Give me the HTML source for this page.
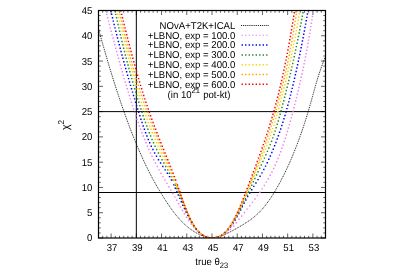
<!DOCTYPE html>
<html><head><meta charset="utf-8"><title>chi2 vs true theta23</title>
<style>
html,body{margin:0;padding:0;background:#fff;}
body{width:400px;height:279px;overflow:hidden;}
svg{display:block;will-change:transform;}
text{font-family:"Liberation Sans",sans-serif;fill:#000;text-rendering:geometricPrecision;}
</style></head><body>
<svg width="400" height="279" viewBox="0 0 400 279">
<rect x="0" y="0" width="400" height="279" fill="#fff"/>
<defs><clipPath id="pc"><rect x="98.5" y="10.5" width="227.0" height="227.5"/></clipPath></defs>
<path d="M98.50 238.0v-2.2M98.50 10.5v2.2M102.70 238.0v-2.2M102.70 10.5v2.2M106.91 238.0v-2.2M106.91 10.5v2.2M111.11 238.0v-4.5M111.11 10.5v4.5M115.31 238.0v-2.2M115.31 10.5v2.2M119.52 238.0v-2.2M119.52 10.5v2.2M123.72 238.0v-2.2M123.72 10.5v2.2M127.93 238.0v-2.2M127.93 10.5v2.2M132.13 238.0v-2.2M132.13 10.5v2.2M136.33 238.0v-4.5M136.33 10.5v4.5M140.54 238.0v-2.2M140.54 10.5v2.2M144.74 238.0v-2.2M144.74 10.5v2.2M148.94 238.0v-2.2M148.94 10.5v2.2M153.15 238.0v-2.2M153.15 10.5v2.2M157.35 238.0v-2.2M157.35 10.5v2.2M161.56 238.0v-4.5M161.56 10.5v4.5M165.76 238.0v-2.2M165.76 10.5v2.2M169.96 238.0v-2.2M169.96 10.5v2.2M174.17 238.0v-2.2M174.17 10.5v2.2M178.37 238.0v-2.2M178.37 10.5v2.2M182.57 238.0v-2.2M182.57 10.5v2.2M186.78 238.0v-4.5M186.78 10.5v4.5M190.98 238.0v-2.2M190.98 10.5v2.2M195.19 238.0v-2.2M195.19 10.5v2.2M199.39 238.0v-2.2M199.39 10.5v2.2M203.59 238.0v-2.2M203.59 10.5v2.2M207.80 238.0v-2.2M207.80 10.5v2.2M212.00 238.0v-4.5M212.00 10.5v4.5M216.20 238.0v-2.2M216.20 10.5v2.2M220.41 238.0v-2.2M220.41 10.5v2.2M224.61 238.0v-2.2M224.61 10.5v2.2M228.81 238.0v-2.2M228.81 10.5v2.2M233.02 238.0v-2.2M233.02 10.5v2.2M237.22 238.0v-4.5M237.22 10.5v4.5M241.43 238.0v-2.2M241.43 10.5v2.2M245.63 238.0v-2.2M245.63 10.5v2.2M249.83 238.0v-2.2M249.83 10.5v2.2M254.04 238.0v-2.2M254.04 10.5v2.2M258.24 238.0v-2.2M258.24 10.5v2.2M262.44 238.0v-4.5M262.44 10.5v4.5M266.65 238.0v-2.2M266.65 10.5v2.2M270.85 238.0v-2.2M270.85 10.5v2.2M275.06 238.0v-2.2M275.06 10.5v2.2M279.26 238.0v-2.2M279.26 10.5v2.2M283.46 238.0v-2.2M283.46 10.5v2.2M287.67 238.0v-4.5M287.67 10.5v4.5M291.87 238.0v-2.2M291.87 10.5v2.2M296.07 238.0v-2.2M296.07 10.5v2.2M300.28 238.0v-2.2M300.28 10.5v2.2M304.48 238.0v-2.2M304.48 10.5v2.2M308.69 238.0v-2.2M308.69 10.5v2.2M312.89 238.0v-4.5M312.89 10.5v4.5M317.09 238.0v-2.2M317.09 10.5v2.2M321.30 238.0v-2.2M321.30 10.5v2.2M325.50 238.0v-2.2M325.50 10.5v2.2M98.5 238.00h4.5M325.5 238.00h-4.5M98.5 232.94h2.2M325.5 232.94h-2.2M98.5 227.89h2.2M325.5 227.89h-2.2M98.5 222.83h2.2M325.5 222.83h-2.2M98.5 217.78h2.2M325.5 217.78h-2.2M98.5 212.72h4.5M325.5 212.72h-4.5M98.5 207.67h2.2M325.5 207.67h-2.2M98.5 202.61h2.2M325.5 202.61h-2.2M98.5 197.56h2.2M325.5 197.56h-2.2M98.5 192.50h2.2M325.5 192.50h-2.2M98.5 187.44h4.5M325.5 187.44h-4.5M98.5 182.39h2.2M325.5 182.39h-2.2M98.5 177.33h2.2M325.5 177.33h-2.2M98.5 172.28h2.2M325.5 172.28h-2.2M98.5 167.22h2.2M325.5 167.22h-2.2M98.5 162.17h4.5M325.5 162.17h-4.5M98.5 157.11h2.2M325.5 157.11h-2.2M98.5 152.06h2.2M325.5 152.06h-2.2M98.5 147.00h2.2M325.5 147.00h-2.2M98.5 141.94h2.2M325.5 141.94h-2.2M98.5 136.89h4.5M325.5 136.89h-4.5M98.5 131.83h2.2M325.5 131.83h-2.2M98.5 126.78h2.2M325.5 126.78h-2.2M98.5 121.72h2.2M325.5 121.72h-2.2M98.5 116.67h2.2M325.5 116.67h-2.2M98.5 111.61h4.5M325.5 111.61h-4.5M98.5 106.56h2.2M325.5 106.56h-2.2M98.5 101.50h2.2M325.5 101.50h-2.2M98.5 96.44h2.2M325.5 96.44h-2.2M98.5 91.39h2.2M325.5 91.39h-2.2M98.5 86.33h4.5M325.5 86.33h-4.5M98.5 81.28h2.2M325.5 81.28h-2.2M98.5 76.22h2.2M325.5 76.22h-2.2M98.5 71.17h2.2M325.5 71.17h-2.2M98.5 66.11h2.2M325.5 66.11h-2.2M98.5 61.06h4.5M325.5 61.06h-4.5M98.5 56.00h2.2M325.5 56.00h-2.2M98.5 50.94h2.2M325.5 50.94h-2.2M98.5 45.89h2.2M325.5 45.89h-2.2M98.5 40.83h2.2M325.5 40.83h-2.2M98.5 35.78h4.5M325.5 35.78h-4.5M98.5 30.72h2.2M325.5 30.72h-2.2M98.5 25.67h2.2M325.5 25.67h-2.2M98.5 20.61h2.2M325.5 20.61h-2.2M98.5 15.56h2.2M325.5 15.56h-2.2M98.5 10.50h4.5M325.5 10.50h-4.5" stroke="#000" stroke-width="1" fill="none" opacity="0.62"/>
<path d="M136.33 10.5V238.0M98.5 111.61H325.5M98.5 192.50H325.5" stroke="#000" stroke-width="1" fill="none"/>
<g clip-path="url(#pc)" fill="none">
<path d="M93.55 10.5 L94.15 12.78 L94.75 15.05 L95.36 17.31 L95.96 19.55 L96.56 21.79 L97.17 24.01 L97.77 26.22 L98.37 28.42 L98.97 30.61 L99.57 32.79 L100.17 34.96 L100.77 37.11 L101.37 39.25 L101.98 41.38 L102.58 43.5 L103.18 45.61 L103.78 47.71 L104.38 49.79 L104.98 51.87 L105.57 53.93 L106.17 55.98 L106.77 58.02 L107.37 60.05 L107.97 62.07 L108.57 64.07 L109.17 66.06 L109.77 68.05 L110.37 70.02 L110.97 71.98 L111.57 73.92 L112.17 75.86 L112.77 77.78 L113.37 79.7 L113.96 81.6 L114.56 83.49 L115.16 85.37 L115.76 87.23 L116.36 89.09 L116.96 90.93 L117.56 92.77 L118.16 94.59 L118.76 96.4 L119.36 98.19 L119.97 99.98 L120.57 101.76 L121.17 103.52 L121.77 105.27 L122.37 107.01 L122.97 108.74 L123.58 110.46 L124.18 112.17 L124.78 113.86 L125.38 115.54 L125.99 117.22 L126.59 118.88 L127.2 120.52 L127.8 122.16 L128.4 123.79 L129.01 125.4 L129.62 127.0 L130.22 128.6 L130.83 130.18 L131.44 131.74 L132.04 133.3 L132.65 134.85 L133.26 136.38 L133.87 137.9 L134.48 139.41 L135.09 140.91 L135.7 142.4 L136.31 143.88 L136.92 145.34 L137.53 146.8 L138.15 148.24 L138.76 149.67 L139.37 151.09 L139.99 152.49 L140.6 153.89 L141.22 155.27 L141.84 156.65 L142.45 158.01 L143.07 159.36 L143.69 160.7 L144.31 162.02 L144.93 163.34 L145.55 164.64 L146.17 165.94 L146.79 167.22 L147.42 168.49 L148.04 169.75 L148.67 170.99 L149.29 172.23 L149.92 173.45 L150.55 174.66 L151.17 175.86 L151.8 177.05 L152.43 178.23 L153.06 179.4 L153.69 180.55 L154.32 181.7 L154.95 182.83 L155.58 183.95 L156.21 185.06 L156.84 186.15 L157.47 187.24 L158.1 188.31 L158.73 189.38 L159.35 190.43 L159.98 191.47 L160.6 192.5 L161.22 193.51 L161.84 194.52 L162.45 195.51 L163.07 196.49 L163.68 197.46 L164.29 198.42 L164.9 199.37 L165.51 200.31 L166.11 201.23 L166.71 202.15 L167.31 203.05 L167.91 203.94 L168.5 204.82 L169.1 205.69 L169.69 206.54 L170.27 207.39 L170.86 208.22 L171.44 209.04 L172.02 209.85 L172.61 210.65 L173.19 211.44 L173.77 212.21 L174.35 212.98 L174.93 213.73 L175.52 214.47 L176.1 215.2 L176.69 215.92 L177.27 216.62 L177.87 217.32 L178.46 218.0 L179.05 218.67 L179.65 219.34 L180.25 219.98 L180.86 220.62 L181.46 221.25 L182.07 221.86 L182.68 222.47 L183.29 223.06 L183.9 223.64 L184.51 224.21 L185.13 224.76 L185.74 225.31 L186.35 225.84 L186.97 226.37 L187.58 226.88 L188.2 227.38 L188.81 227.87 L189.43 228.34 L190.04 228.81 L190.65 229.26 L191.27 229.7 L191.88 230.14 L192.49 230.55 L193.09 230.96 L193.7 231.36 L194.3 231.74 L194.91 232.12 L195.51 232.48 L196.11 232.83 L196.7 233.17 L197.29 233.5 L197.88 233.81 L198.47 234.12 L199.05 234.41 L199.63 234.69 L200.21 234.96 L200.78 235.22 L201.35 235.47 L201.91 235.7 L202.47 235.93 L203.02 236.14 L203.57 236.34 L204.12 236.53 L204.66 236.71 L205.19 236.87 L205.72 237.03 L206.24 237.17 L206.76 237.3 L207.27 237.43 L207.77 237.53 L208.27 237.63 L208.76 237.72 L209.25 237.79 L209.73 237.86 L210.2 237.91 L210.66 237.95 L211.11 237.98 L211.56 237.99 L212.0 238.0 L212.43 237.99 L212.87 237.98 L213.32 237.95 L213.76 237.91 L214.22 237.86 L214.68 237.79 L215.15 237.72 L215.62 237.63 L216.1 237.53 L216.59 237.43 L217.08 237.3 L217.59 237.17 L218.1 237.03 L218.62 236.87 L219.15 236.71 L219.69 236.53 L220.23 236.34 L220.79 236.14 L221.36 235.93 L221.94 235.7 L222.53 235.47 L223.13 235.22 L223.74 234.96 L224.36 234.69 L224.99 234.41 L225.64 234.12 L226.3 233.81 L226.97 233.5 L227.65 233.17 L228.34 232.83 L229.05 232.48 L229.77 232.12 L230.5 231.74 L231.24 231.36 L231.99 230.96 L232.75 230.55 L233.53 230.14 L234.31 229.7 L235.11 229.26 L235.92 228.81 L236.75 228.34 L237.58 227.87 L238.43 227.38 L239.28 226.88 L240.15 226.37 L241.03 225.84 L241.92 225.31 L242.82 224.76 L243.73 224.21 L244.64 223.64 L245.56 223.06 L246.47 222.47 L247.39 221.86 L248.31 221.25 L249.22 220.62 L250.12 219.98 L251.02 219.34 L251.91 218.67 L252.79 218.0 L253.66 217.32 L254.52 216.62 L255.35 215.92 L256.18 215.2 L256.99 214.47 L257.79 213.73 L258.57 212.98 L259.34 212.21 L260.1 211.44 L260.85 210.65 L261.59 209.85 L262.32 209.04 L263.03 208.22 L263.74 207.39 L264.44 206.54 L265.13 205.69 L265.81 204.82 L266.48 203.94 L267.15 203.05 L267.81 202.15 L268.47 201.23 L269.12 200.31 L269.76 199.37 L270.4 198.42 L271.03 197.46 L271.67 196.49 L272.29 195.51 L272.92 194.52 L273.54 193.51 L274.17 192.5 L274.79 191.47 L275.41 190.43 L276.02 189.38 L276.64 188.31 L277.26 187.24 L277.87 186.15 L278.49 185.06 L279.1 183.95 L279.71 182.83 L280.32 181.7 L280.93 180.55 L281.53 179.4 L282.14 178.23 L282.74 177.05 L283.35 175.86 L283.95 174.66 L284.55 173.45 L285.15 172.23 L285.74 170.99 L286.34 169.75 L286.93 168.49 L287.52 167.22 L288.11 165.94 L288.7 164.64 L289.29 163.34 L289.87 162.02 L290.46 160.7 L291.04 159.36 L291.62 158.01 L292.19 156.65 L292.77 155.27 L293.34 153.89 L293.92 152.49 L294.49 151.09 L295.05 149.67 L295.62 148.24 L296.18 146.8 L296.74 145.34 L297.3 143.88 L297.86 142.4 L298.42 140.91 L298.97 139.41 L299.52 137.9 L300.07 136.38 L300.62 134.85 L301.16 133.3 L301.7 131.74 L302.24 130.18 L302.78 128.6 L303.31 127.0 L303.84 125.4 L304.37 123.79 L304.9 122.16 L305.43 120.52 L305.95 118.88 L306.47 117.22 L306.98 115.54 L307.5 113.86 L308.01 112.17 L308.52 110.46 L309.02 108.74 L309.53 107.01 L310.03 105.27 L310.53 103.52 L311.02 101.76 L311.52 99.98 L312.01 98.19 L312.51 96.4 L313.0 94.59 L313.51 92.77 L314.02 90.93 L314.53 89.09 L315.06 87.23 L315.59 85.37 L316.14 83.49 L316.69 81.6 L317.27 79.7 L317.85 77.78 L318.46 75.86 L319.08 73.92 L319.72 71.98 L320.39 70.02 L321.07 68.05 L321.78 66.06 L322.52 64.07 L323.28 62.07 L324.07 60.05 L324.89 58.02 L325.74 55.98 L326.62 53.93 L327.54 51.87 L328.49 49.79 L329.48 47.71 L330.5 45.61 L331.57 43.5 L332.67 41.38 L333.82 39.25 L335.01 37.11 L336.24 34.96 L337.52 32.79 L338.85 30.61 L340.23 28.42 L341.66 26.22 L343.14 24.01 L344.67 21.79 L346.25 19.55 L347.9 17.31 L349.6 15.05 L351.36 12.78 L353.18 10.5" stroke="#000" stroke-width="0.9" stroke-dasharray="1 0.9"/>
<path d="M105.19 10.28h1.45v1.45h-1.45zM106.06 13.65h1.45v1.45h-1.45zM106.93 17.03h1.45v1.45h-1.45zM107.81 20.41h1.45v1.45h-1.45zM108.69 23.79h1.45v1.45h-1.45zM109.57 27.17h1.45v1.45h-1.45zM110.46 30.55h1.45v1.45h-1.45zM111.35 33.93h1.45v1.45h-1.45zM112.25 37.31h1.45v1.45h-1.45zM113.16 40.69h1.45v1.45h-1.45zM114.07 44.07h1.45v1.45h-1.45zM114.98 47.45h1.45v1.45h-1.45zM115.91 50.84h1.45v1.45h-1.45zM116.84 54.22h1.45v1.45h-1.45zM117.78 57.60h1.45v1.45h-1.45zM118.72 60.98h1.45v1.45h-1.45zM119.67 64.36h1.45v1.45h-1.45zM120.63 67.74h1.45v1.45h-1.45zM121.60 71.12h1.45v1.45h-1.45zM122.57 74.50h1.45v1.45h-1.45zM123.55 77.88h1.45v1.45h-1.45zM124.54 81.26h1.45v1.45h-1.45zM125.53 84.64h1.45v1.45h-1.45zM126.54 88.02h1.45v1.45h-1.45zM127.57 91.39h1.45v1.45h-1.45zM128.60 94.77h1.45v1.45h-1.45zM129.65 98.15h1.45v1.45h-1.45zM130.71 101.53h1.45v1.45h-1.45zM131.79 104.91h1.45v1.45h-1.45zM132.89 108.29h1.45v1.45h-1.45zM134.00 111.67h1.45v1.45h-1.45zM135.15 115.05h1.45v1.45h-1.45zM136.30 118.43h1.45v1.45h-1.45zM137.49 121.81h1.45v1.45h-1.45zM138.71 125.19h1.45v1.45h-1.45zM139.95 128.57h1.45v1.45h-1.45zM141.23 131.95h1.45v1.45h-1.45zM142.54 135.33h1.45v1.45h-1.45zM143.89 138.71h1.45v1.45h-1.45zM145.27 142.09h1.45v1.45h-1.45zM146.71 145.47h1.45v1.45h-1.45zM148.19 148.85h1.45v1.45h-1.45zM149.72 152.23h1.45v1.45h-1.45zM151.32 155.61h1.45v1.45h-1.45zM152.97 158.99h1.45v1.45h-1.45zM154.70 162.37h1.45v1.45h-1.45zM156.49 165.75h1.45v1.45h-1.45zM158.35 169.13h1.45v1.45h-1.45zM160.26 172.51h1.45v1.45h-1.45zM162.22 175.89h1.45v1.45h-1.45zM164.20 179.27h1.45v1.45h-1.45zM166.20 182.65h1.45v1.45h-1.45zM168.20 186.03h1.45v1.45h-1.45zM170.19 189.41h1.45v1.45h-1.45zM172.15 192.79h1.45v1.45h-1.45zM174.07 196.17h1.45v1.45h-1.45zM175.97 199.55h1.45v1.45h-1.45zM177.86 202.93h1.45v1.45h-1.45zM179.77 206.31h1.45v1.45h-1.45zM181.73 209.69h1.45v1.45h-1.45zM183.77 213.07h1.45v1.45h-1.45zM185.90 216.45h1.45v1.45h-1.45zM188.17 219.83h1.45v1.45h-1.45zM190.62 223.21h1.45v1.45h-1.45zM193.33 226.59h1.45v1.45h-1.45zM196.46 229.97h1.45v1.45h-1.45zM199.84 232.93h1.45v1.45h-1.45zM203.22 235.14h1.45v1.45h-1.45zM206.60 236.56h1.45v1.45h-1.45zM209.98 237.22h1.45v1.45h-1.45zM216.23 236.63h1.45v1.45h-1.45zM219.61 235.52h1.45v1.45h-1.45zM222.99 233.87h1.45v1.45h-1.45zM226.37 231.64h1.45v1.45h-1.45zM229.75 228.70h1.45v1.45h-1.45zM232.85 225.32h1.45v1.45h-1.45zM235.59 221.94h1.45v1.45h-1.45zM238.23 218.56h1.45v1.45h-1.45zM240.91 215.18h1.45v1.45h-1.45zM243.64 211.80h1.45v1.45h-1.45zM246.35 208.42h1.45v1.45h-1.45zM249.06 205.04h1.45v1.45h-1.45zM251.70 201.66h1.45v1.45h-1.45zM254.25 198.28h1.45v1.45h-1.45zM256.74 194.90h1.45v1.45h-1.45zM259.13 191.52h1.45v1.45h-1.45zM261.42 188.14h1.45v1.45h-1.45zM263.61 184.76h1.45v1.45h-1.45zM265.68 181.38h1.45v1.45h-1.45zM267.65 178.00h1.45v1.45h-1.45zM269.50 174.62h1.45v1.45h-1.45zM271.25 171.24h1.45v1.45h-1.45zM272.90 167.86h1.45v1.45h-1.45zM274.46 164.48h1.45v1.45h-1.45zM275.93 161.10h1.45v1.45h-1.45zM277.33 157.72h1.45v1.45h-1.45zM278.68 154.34h1.45v1.45h-1.45zM279.96 150.96h1.45v1.45h-1.45zM281.18 147.58h1.45v1.45h-1.45zM282.36 144.20h1.45v1.45h-1.45zM283.50 140.82h1.45v1.45h-1.45zM284.59 137.44h1.45v1.45h-1.45zM285.66 134.06h1.45v1.45h-1.45zM286.69 130.68h1.45v1.45h-1.45zM287.68 127.30h1.45v1.45h-1.45zM288.66 123.92h1.45v1.45h-1.45zM289.60 120.54h1.45v1.45h-1.45zM290.54 117.16h1.45v1.45h-1.45zM291.44 113.78h1.45v1.45h-1.45zM292.33 110.40h1.45v1.45h-1.45zM293.21 107.02h1.45v1.45h-1.45zM294.07 103.64h1.45v1.45h-1.45zM294.92 100.26h1.45v1.45h-1.45zM295.75 96.88h1.45v1.45h-1.45zM296.58 93.50h1.45v1.45h-1.45zM297.40 90.12h1.45v1.45h-1.45zM298.19 86.74h1.45v1.45h-1.45zM298.98 83.36h1.45v1.45h-1.45zM299.75 79.98h1.45v1.45h-1.45zM300.51 76.60h1.45v1.45h-1.45zM301.26 73.22h1.45v1.45h-1.45zM301.99 69.84h1.45v1.45h-1.45zM302.71 66.46h1.45v1.45h-1.45zM303.41 63.08h1.45v1.45h-1.45zM304.10 59.70h1.45v1.45h-1.45zM304.77 56.32h1.45v1.45h-1.45zM305.44 52.94h1.45v1.45h-1.45zM306.07 49.56h1.45v1.45h-1.45zM306.71 46.18h1.45v1.45h-1.45zM307.32 42.80h1.45v1.45h-1.45zM307.92 39.42h1.45v1.45h-1.45zM308.51 36.04h1.45v1.45h-1.45zM309.08 32.66h1.45v1.45h-1.45zM309.63 29.28h1.45v1.45h-1.45zM310.17 25.90h1.45v1.45h-1.45zM310.69 22.52h1.45v1.45h-1.45zM311.20 19.14h1.45v1.45h-1.45zM311.69 15.76h1.45v1.45h-1.45zM312.17 12.38h1.45v1.45h-1.45z" fill="#ee82ee" stroke="none"/>
<path d="M110.20 10.28h1.45v1.45h-1.45zM110.99 13.65h1.45v1.45h-1.45zM111.79 17.03h1.45v1.45h-1.45zM112.61 20.41h1.45v1.45h-1.45zM113.43 23.79h1.45v1.45h-1.45zM114.26 27.17h1.45v1.45h-1.45zM115.09 30.55h1.45v1.45h-1.45zM115.94 33.93h1.45v1.45h-1.45zM116.80 37.31h1.45v1.45h-1.45zM117.68 40.69h1.45v1.45h-1.45zM118.55 44.07h1.45v1.45h-1.45zM119.44 47.45h1.45v1.45h-1.45zM120.33 50.84h1.45v1.45h-1.45zM121.24 54.22h1.45v1.45h-1.45zM122.16 57.60h1.45v1.45h-1.45zM123.07 60.98h1.45v1.45h-1.45zM124.01 64.36h1.45v1.45h-1.45zM124.95 67.74h1.45v1.45h-1.45zM125.91 71.12h1.45v1.45h-1.45zM126.86 74.50h1.45v1.45h-1.45zM127.84 77.88h1.45v1.45h-1.45zM128.82 81.26h1.45v1.45h-1.45zM129.80 84.64h1.45v1.45h-1.45zM130.80 88.02h1.45v1.45h-1.45zM131.81 91.39h1.45v1.45h-1.45zM132.82 94.77h1.45v1.45h-1.45zM133.85 98.15h1.45v1.45h-1.45zM134.88 101.53h1.45v1.45h-1.45zM135.92 104.91h1.45v1.45h-1.45zM136.97 108.29h1.45v1.45h-1.45zM138.03 111.67h1.45v1.45h-1.45zM139.10 115.05h1.45v1.45h-1.45zM140.19 118.43h1.45v1.45h-1.45zM141.31 121.81h1.45v1.45h-1.45zM142.47 125.19h1.45v1.45h-1.45zM143.66 128.57h1.45v1.45h-1.45zM144.90 131.95h1.45v1.45h-1.45zM146.20 135.33h1.45v1.45h-1.45zM147.57 138.71h1.45v1.45h-1.45zM149.00 142.09h1.45v1.45h-1.45zM150.54 145.47h1.45v1.45h-1.45zM152.16 148.85h1.45v1.45h-1.45zM153.90 152.23h1.45v1.45h-1.45zM155.76 155.61h1.45v1.45h-1.45zM157.75 158.99h1.45v1.45h-1.45zM159.88 162.37h1.45v1.45h-1.45zM162.14 165.75h1.45v1.45h-1.45zM164.44 169.13h1.45v1.45h-1.45zM166.70 172.51h1.45v1.45h-1.45zM168.79 175.89h1.45v1.45h-1.45zM170.68 179.27h1.45v1.45h-1.45zM173.12 184.15h1.45v1.45h-1.45zM174.66 187.53h1.45v1.45h-1.45zM176.14 190.91h1.45v1.45h-1.45zM177.62 194.29h1.45v1.45h-1.45zM179.11 197.67h1.45v1.45h-1.45zM180.60 201.05h1.45v1.45h-1.45zM182.13 204.43h1.45v1.45h-1.45zM183.71 207.81h1.45v1.45h-1.45zM185.32 211.19h1.45v1.45h-1.45zM187.02 214.57h1.45v1.45h-1.45zM188.80 217.95h1.45v1.45h-1.45zM190.72 221.33h1.45v1.45h-1.45zM192.84 224.71h1.45v1.45h-1.45zM195.27 228.09h1.45v1.45h-1.45zM198.25 231.47h1.45v1.45h-1.45zM201.63 234.28h1.45v1.45h-1.45zM205.01 236.09h1.45v1.45h-1.45zM208.39 237.04h1.45v1.45h-1.45zM211.77 237.26h1.45v1.45h-1.45zM216.82 236.45h1.45v1.45h-1.45zM220.20 235.01h1.45v1.45h-1.45zM223.58 232.75h1.45v1.45h-1.45zM226.92 229.60h1.45v1.45h-1.45zM229.75 226.22h1.45v1.45h-1.45zM232.14 222.84h1.45v1.45h-1.45zM234.27 219.46h1.45v1.45h-1.45zM236.22 216.08h1.45v1.45h-1.45zM238.07 212.70h1.45v1.45h-1.45zM239.85 209.32h1.45v1.45h-1.45zM241.59 205.94h1.45v1.45h-1.45zM243.34 202.56h1.45v1.45h-1.45zM245.12 199.18h1.45v1.45h-1.45zM246.97 195.80h1.45v1.45h-1.45zM248.92 192.42h1.45v1.45h-1.45zM250.97 189.04h1.45v1.45h-1.45zM253.08 185.66h1.45v1.45h-1.45zM255.21 182.28h1.45v1.45h-1.45zM257.30 178.90h1.45v1.45h-1.45zM259.32 175.52h1.45v1.45h-1.45zM261.25 172.14h1.45v1.45h-1.45zM263.09 168.76h1.45v1.45h-1.45zM264.83 165.38h1.45v1.45h-1.45zM266.51 162.00h1.45v1.45h-1.45zM268.10 158.62h1.45v1.45h-1.45zM269.63 155.24h1.45v1.45h-1.45zM271.11 151.86h1.45v1.45h-1.45zM272.52 148.48h1.45v1.45h-1.45zM273.87 145.10h1.45v1.45h-1.45zM275.18 141.72h1.45v1.45h-1.45zM276.44 138.34h1.45v1.45h-1.45zM277.67 134.96h1.45v1.45h-1.45zM278.85 131.58h1.45v1.45h-1.45zM280.00 128.20h1.45v1.45h-1.45zM281.10 124.82h1.45v1.45h-1.45zM282.17 121.44h1.45v1.45h-1.45zM283.23 118.06h1.45v1.45h-1.45zM284.24 114.68h1.45v1.45h-1.45zM285.23 111.30h1.45v1.45h-1.45zM286.18 107.92h1.45v1.45h-1.45zM287.12 104.54h1.45v1.45h-1.45zM288.03 101.16h1.45v1.45h-1.45zM288.92 97.78h1.45v1.45h-1.45zM289.80 94.40h1.45v1.45h-1.45zM290.65 91.02h1.45v1.45h-1.45zM291.48 87.64h1.45v1.45h-1.45zM292.30 84.26h1.45v1.45h-1.45zM293.10 80.88h1.45v1.45h-1.45zM293.88 77.50h1.45v1.45h-1.45zM294.66 74.12h1.45v1.45h-1.45zM295.41 70.74h1.45v1.45h-1.45zM296.16 67.36h1.45v1.45h-1.45zM296.89 63.98h1.45v1.45h-1.45zM297.60 60.60h1.45v1.45h-1.45zM298.31 57.22h1.45v1.45h-1.45zM299.02 53.84h1.45v1.45h-1.45zM299.70 50.46h1.45v1.45h-1.45zM300.38 47.08h1.45v1.45h-1.45zM301.05 43.70h1.45v1.45h-1.45zM301.71 40.32h1.45v1.45h-1.45zM302.36 36.94h1.45v1.45h-1.45zM303.00 33.56h1.45v1.45h-1.45zM303.64 30.18h1.45v1.45h-1.45zM304.27 26.80h1.45v1.45h-1.45zM304.90 23.42h1.45v1.45h-1.45zM305.52 20.04h1.45v1.45h-1.45zM306.13 16.66h1.45v1.45h-1.45zM306.74 13.28h1.45v1.45h-1.45zM307.35 9.90h1.45v1.45h-1.45z" fill="#0000ff" stroke="none"/>
<path d="M114.33 10.28h1.45v1.45h-1.45zM115.06 13.65h1.45v1.45h-1.45zM115.81 17.03h1.45v1.45h-1.45zM116.55 20.41h1.45v1.45h-1.45zM117.31 23.79h1.45v1.45h-1.45zM118.09 27.17h1.45v1.45h-1.45zM118.86 30.55h1.45v1.45h-1.45zM119.65 33.93h1.45v1.45h-1.45zM120.46 37.31h1.45v1.45h-1.45zM121.27 40.69h1.45v1.45h-1.45zM122.10 44.07h1.45v1.45h-1.45zM122.93 47.45h1.45v1.45h-1.45zM123.78 50.84h1.45v1.45h-1.45zM124.64 54.22h1.45v1.45h-1.45zM125.50 57.60h1.45v1.45h-1.45zM126.39 60.98h1.45v1.45h-1.45zM127.28 64.36h1.45v1.45h-1.45zM128.19 67.74h1.45v1.45h-1.45zM129.11 71.12h1.45v1.45h-1.45zM130.05 74.50h1.45v1.45h-1.45zM131.00 77.88h1.45v1.45h-1.45zM131.95 81.26h1.45v1.45h-1.45zM132.92 84.64h1.45v1.45h-1.45zM133.92 88.02h1.45v1.45h-1.45zM134.92 91.39h1.45v1.45h-1.45zM135.94 94.77h1.45v1.45h-1.45zM136.98 98.15h1.45v1.45h-1.45zM138.03 101.53h1.45v1.45h-1.45zM139.10 104.91h1.45v1.45h-1.45zM140.19 108.29h1.45v1.45h-1.45zM141.29 111.67h1.45v1.45h-1.45zM142.41 115.05h1.45v1.45h-1.45zM143.56 118.43h1.45v1.45h-1.45zM144.75 121.81h1.45v1.45h-1.45zM145.97 125.19h1.45v1.45h-1.45zM147.22 128.57h1.45v1.45h-1.45zM148.53 131.95h1.45v1.45h-1.45zM149.89 135.33h1.45v1.45h-1.45zM151.31 138.71h1.45v1.45h-1.45zM152.79 142.09h1.45v1.45h-1.45zM154.34 145.47h1.45v1.45h-1.45zM155.98 148.85h1.45v1.45h-1.45zM157.70 152.23h1.45v1.45h-1.45zM159.48 155.61h1.45v1.45h-1.45zM161.31 158.99h1.45v1.45h-1.45zM163.18 162.37h1.45v1.45h-1.45zM165.06 165.75h1.45v1.45h-1.45zM166.93 169.13h1.45v1.45h-1.45zM168.76 172.51h1.45v1.45h-1.45zM170.54 175.89h1.45v1.45h-1.45zM172.24 179.27h1.45v1.45h-1.45zM174.76 184.55h1.45v1.45h-1.45zM176.29 187.93h1.45v1.45h-1.45zM177.77 191.31h1.45v1.45h-1.45zM179.21 194.69h1.45v1.45h-1.45zM180.62 198.07h1.45v1.45h-1.45zM182.00 201.45h1.45v1.45h-1.45zM183.36 204.83h1.45v1.45h-1.45zM184.73 208.21h1.45v1.45h-1.45zM186.14 211.59h1.45v1.45h-1.45zM187.60 214.97h1.45v1.45h-1.45zM189.17 218.35h1.45v1.45h-1.45zM190.93 221.73h1.45v1.45h-1.45zM192.99 225.11h1.45v1.45h-1.45zM195.52 228.49h1.45v1.45h-1.45zM198.70 231.82h1.45v1.45h-1.45zM202.08 234.40h1.45v1.45h-1.45zM205.46 236.13h1.45v1.45h-1.45zM208.84 237.07h1.45v1.45h-1.45zM212.22 237.25h1.45v1.45h-1.45zM217.59 236.13h1.45v1.45h-1.45zM220.97 234.40h1.45v1.45h-1.45zM224.35 231.76h1.45v1.45h-1.45zM227.49 228.40h1.45v1.45h-1.45zM230.06 225.02h1.45v1.45h-1.45zM232.30 221.64h1.45v1.45h-1.45zM234.33 218.26h1.45v1.45h-1.45zM236.23 214.88h1.45v1.45h-1.45zM238.03 211.50h1.45v1.45h-1.45zM239.75 208.12h1.45v1.45h-1.45zM241.44 204.74h1.45v1.45h-1.45zM243.08 201.36h1.45v1.45h-1.45zM244.69 197.98h1.45v1.45h-1.45zM246.30 194.60h1.45v1.45h-1.45zM247.89 191.22h1.45v1.45h-1.45zM249.46 187.84h1.45v1.45h-1.45zM251.05 184.46h1.45v1.45h-1.45zM252.63 181.08h1.45v1.45h-1.45zM254.22 177.70h1.45v1.45h-1.45zM255.80 174.32h1.45v1.45h-1.45zM257.41 170.94h1.45v1.45h-1.45zM259.01 167.56h1.45v1.45h-1.45zM260.60 164.18h1.45v1.45h-1.45zM262.18 160.80h1.45v1.45h-1.45zM263.73 157.42h1.45v1.45h-1.45zM265.23 154.04h1.45v1.45h-1.45zM266.70 150.66h1.45v1.45h-1.45zM268.12 147.28h1.45v1.45h-1.45zM269.50 143.90h1.45v1.45h-1.45zM270.81 140.52h1.45v1.45h-1.45zM272.06 137.14h1.45v1.45h-1.45zM273.25 133.76h1.45v1.45h-1.45zM274.38 130.38h1.45v1.45h-1.45zM275.47 127.00h1.45v1.45h-1.45zM276.51 123.62h1.45v1.45h-1.45zM277.52 120.24h1.45v1.45h-1.45zM278.49 116.86h1.45v1.45h-1.45zM279.43 113.48h1.45v1.45h-1.45zM280.36 110.10h1.45v1.45h-1.45zM281.26 106.72h1.45v1.45h-1.45zM282.15 103.34h1.45v1.45h-1.45zM283.03 99.96h1.45v1.45h-1.45zM283.89 96.58h1.45v1.45h-1.45zM284.75 93.20h1.45v1.45h-1.45zM285.60 89.82h1.45v1.45h-1.45zM286.43 86.44h1.45v1.45h-1.45zM287.26 83.06h1.45v1.45h-1.45zM288.08 79.68h1.45v1.45h-1.45zM288.88 76.30h1.45v1.45h-1.45zM289.67 72.92h1.45v1.45h-1.45zM290.46 69.54h1.45v1.45h-1.45zM291.23 66.16h1.45v1.45h-1.45zM291.99 62.78h1.45v1.45h-1.45zM292.74 59.40h1.45v1.45h-1.45zM293.49 56.02h1.45v1.45h-1.45zM294.22 52.64h1.45v1.45h-1.45zM294.93 49.26h1.45v1.45h-1.45zM295.65 45.88h1.45v1.45h-1.45zM296.35 42.50h1.45v1.45h-1.45zM297.04 39.12h1.45v1.45h-1.45zM297.72 35.74h1.45v1.45h-1.45zM298.40 32.36h1.45v1.45h-1.45zM299.06 28.98h1.45v1.45h-1.45zM299.71 25.60h1.45v1.45h-1.45zM300.35 22.22h1.45v1.45h-1.45zM300.98 18.84h1.45v1.45h-1.45zM301.61 15.46h1.45v1.45h-1.45zM302.22 12.08h1.45v1.45h-1.45z" fill="#228b22" stroke="none"/>
<path d="M116.41 10.28h1.45v1.45h-1.45zM117.23 13.65h1.45v1.45h-1.45zM118.05 17.03h1.45v1.45h-1.45zM118.88 20.41h1.45v1.45h-1.45zM119.70 23.79h1.45v1.45h-1.45zM120.52 27.17h1.45v1.45h-1.45zM121.35 30.55h1.45v1.45h-1.45zM122.17 33.93h1.45v1.45h-1.45zM123.01 37.31h1.45v1.45h-1.45zM123.84 40.69h1.45v1.45h-1.45zM124.68 44.07h1.45v1.45h-1.45zM125.52 47.45h1.45v1.45h-1.45zM126.37 50.84h1.45v1.45h-1.45zM127.23 54.22h1.45v1.45h-1.45zM128.09 57.60h1.45v1.45h-1.45zM128.97 60.98h1.45v1.45h-1.45zM129.85 64.36h1.45v1.45h-1.45zM130.75 67.74h1.45v1.45h-1.45zM131.66 71.12h1.45v1.45h-1.45zM132.58 74.50h1.45v1.45h-1.45zM133.51 77.88h1.45v1.45h-1.45zM134.46 81.26h1.45v1.45h-1.45zM135.43 84.64h1.45v1.45h-1.45zM136.42 88.02h1.45v1.45h-1.45zM137.43 91.39h1.45v1.45h-1.45zM138.46 94.77h1.45v1.45h-1.45zM139.51 98.15h1.45v1.45h-1.45zM140.59 101.53h1.45v1.45h-1.45zM141.70 104.91h1.45v1.45h-1.45zM142.83 108.29h1.45v1.45h-1.45zM144.00 111.67h1.45v1.45h-1.45zM145.19 115.05h1.45v1.45h-1.45zM146.43 118.43h1.45v1.45h-1.45zM147.69 121.81h1.45v1.45h-1.45zM148.99 125.19h1.45v1.45h-1.45zM150.31 128.57h1.45v1.45h-1.45zM151.68 131.95h1.45v1.45h-1.45zM153.08 135.33h1.45v1.45h-1.45zM154.51 138.71h1.45v1.45h-1.45zM155.98 142.09h1.45v1.45h-1.45zM157.47 145.47h1.45v1.45h-1.45zM158.99 148.85h1.45v1.45h-1.45zM160.55 152.23h1.45v1.45h-1.45zM162.12 155.61h1.45v1.45h-1.45zM163.70 158.99h1.45v1.45h-1.45zM165.29 162.37h1.45v1.45h-1.45zM166.88 165.75h1.45v1.45h-1.45zM168.46 169.13h1.45v1.45h-1.45zM170.02 172.51h1.45v1.45h-1.45zM171.55 175.89h1.45v1.45h-1.45zM173.06 179.27h1.45v1.45h-1.45zM174.52 182.65h1.45v1.45h-1.45zM175.95 186.03h1.45v1.45h-1.45zM177.35 189.41h1.45v1.45h-1.45zM178.73 192.79h1.45v1.45h-1.45zM180.09 196.17h1.45v1.45h-1.45zM181.43 199.55h1.45v1.45h-1.45zM182.78 202.93h1.45v1.45h-1.45zM184.14 206.31h1.45v1.45h-1.45zM185.54 209.69h1.45v1.45h-1.45zM186.99 213.07h1.45v1.45h-1.45zM188.54 216.45h1.45v1.45h-1.45zM190.23 219.83h1.45v1.45h-1.45zM192.13 223.21h1.45v1.45h-1.45zM194.33 226.59h1.45v1.45h-1.45zM197.00 229.97h1.45v1.45h-1.45zM200.28 233.17h1.45v1.45h-1.45zM203.66 235.41h1.45v1.45h-1.45zM207.04 236.73h1.45v1.45h-1.45zM210.42 237.26h1.45v1.45h-1.45zM216.65 236.47h1.45v1.45h-1.45zM220.03 234.99h1.45v1.45h-1.45zM223.41 232.58h1.45v1.45h-1.45zM226.64 229.30h1.45v1.45h-1.45zM229.24 225.92h1.45v1.45h-1.45zM231.46 222.54h1.45v1.45h-1.45zM233.44 219.16h1.45v1.45h-1.45zM235.26 215.78h1.45v1.45h-1.45zM236.98 212.40h1.45v1.45h-1.45zM238.60 209.02h1.45v1.45h-1.45zM240.17 205.64h1.45v1.45h-1.45zM241.71 202.26h1.45v1.45h-1.45zM243.19 198.88h1.45v1.45h-1.45zM244.67 195.50h1.45v1.45h-1.45zM246.14 192.12h1.45v1.45h-1.45zM247.59 188.74h1.45v1.45h-1.45zM249.03 185.36h1.45v1.45h-1.45zM250.47 181.98h1.45v1.45h-1.45zM251.92 178.60h1.45v1.45h-1.45zM253.36 175.22h1.45v1.45h-1.45zM254.82 171.84h1.45v1.45h-1.45zM256.28 168.46h1.45v1.45h-1.45zM257.73 165.08h1.45v1.45h-1.45zM259.18 161.70h1.45v1.45h-1.45zM260.60 158.32h1.45v1.45h-1.45zM262.00 154.94h1.45v1.45h-1.45zM263.38 151.56h1.45v1.45h-1.45zM264.73 148.18h1.45v1.45h-1.45zM266.04 144.80h1.45v1.45h-1.45zM267.31 141.42h1.45v1.45h-1.45zM268.54 138.04h1.45v1.45h-1.45zM269.73 134.66h1.45v1.45h-1.45zM270.88 131.28h1.45v1.45h-1.45zM271.99 127.90h1.45v1.45h-1.45zM273.06 124.52h1.45v1.45h-1.45zM274.11 121.14h1.45v1.45h-1.45zM275.13 117.76h1.45v1.45h-1.45zM276.11 114.38h1.45v1.45h-1.45zM277.08 111.00h1.45v1.45h-1.45zM278.03 107.62h1.45v1.45h-1.45zM278.95 104.24h1.45v1.45h-1.45zM279.86 100.86h1.45v1.45h-1.45zM280.75 97.48h1.45v1.45h-1.45zM281.63 94.10h1.45v1.45h-1.45zM282.48 90.72h1.45v1.45h-1.45zM283.32 87.34h1.45v1.45h-1.45zM284.15 83.96h1.45v1.45h-1.45zM284.96 80.58h1.45v1.45h-1.45zM285.76 77.20h1.45v1.45h-1.45zM286.54 73.82h1.45v1.45h-1.45zM287.31 70.44h1.45v1.45h-1.45zM288.06 67.06h1.45v1.45h-1.45zM288.81 63.68h1.45v1.45h-1.45zM289.54 60.30h1.45v1.45h-1.45zM290.27 56.92h1.45v1.45h-1.45zM290.97 53.54h1.45v1.45h-1.45zM291.66 50.16h1.45v1.45h-1.45zM292.35 46.78h1.45v1.45h-1.45zM293.02 43.40h1.45v1.45h-1.45zM293.69 40.02h1.45v1.45h-1.45zM294.34 36.64h1.45v1.45h-1.45zM294.98 33.26h1.45v1.45h-1.45zM295.61 29.88h1.45v1.45h-1.45zM296.23 26.50h1.45v1.45h-1.45zM296.84 23.12h1.45v1.45h-1.45zM297.44 19.74h1.45v1.45h-1.45zM298.03 16.36h1.45v1.45h-1.45zM298.62 12.98h1.45v1.45h-1.45z" fill="#ffd700" stroke="none"/>
<path d="M118.52 10.28h1.45v1.45h-1.45zM119.30 13.65h1.45v1.45h-1.45zM120.08 17.03h1.45v1.45h-1.45zM120.86 20.41h1.45v1.45h-1.45zM121.65 23.79h1.45v1.45h-1.45zM122.43 27.17h1.45v1.45h-1.45zM123.22 30.55h1.45v1.45h-1.45zM124.02 33.93h1.45v1.45h-1.45zM124.83 37.31h1.45v1.45h-1.45zM125.64 40.69h1.45v1.45h-1.45zM126.48 44.07h1.45v1.45h-1.45zM127.30 47.45h1.45v1.45h-1.45zM128.15 50.84h1.45v1.45h-1.45zM129.01 54.22h1.45v1.45h-1.45zM129.88 57.60h1.45v1.45h-1.45zM130.77 60.98h1.45v1.45h-1.45zM131.68 64.36h1.45v1.45h-1.45zM132.60 67.74h1.45v1.45h-1.45zM133.54 71.12h1.45v1.45h-1.45zM134.50 74.50h1.45v1.45h-1.45zM135.49 77.88h1.45v1.45h-1.45zM136.50 81.26h1.45v1.45h-1.45zM137.53 84.64h1.45v1.45h-1.45zM138.59 88.02h1.45v1.45h-1.45zM139.67 91.39h1.45v1.45h-1.45zM140.77 94.77h1.45v1.45h-1.45zM141.90 98.15h1.45v1.45h-1.45zM143.04 101.53h1.45v1.45h-1.45zM144.21 104.91h1.45v1.45h-1.45zM145.40 108.29h1.45v1.45h-1.45zM146.61 111.67h1.45v1.45h-1.45zM147.84 115.05h1.45v1.45h-1.45zM149.09 118.43h1.45v1.45h-1.45zM150.36 121.81h1.45v1.45h-1.45zM151.65 125.19h1.45v1.45h-1.45zM152.96 128.57h1.45v1.45h-1.45zM154.28 131.95h1.45v1.45h-1.45zM155.63 135.33h1.45v1.45h-1.45zM156.99 138.71h1.45v1.45h-1.45zM158.36 142.09h1.45v1.45h-1.45zM159.74 145.47h1.45v1.45h-1.45zM161.14 148.85h1.45v1.45h-1.45zM162.55 152.23h1.45v1.45h-1.45zM163.97 155.61h1.45v1.45h-1.45zM165.40 158.99h1.45v1.45h-1.45zM166.82 162.37h1.45v1.45h-1.45zM168.26 165.75h1.45v1.45h-1.45zM169.69 169.13h1.45v1.45h-1.45zM171.12 172.51h1.45v1.45h-1.45zM172.52 175.89h1.45v1.45h-1.45zM173.90 179.27h1.45v1.45h-1.45zM175.38 182.95h1.45v1.45h-1.45zM176.72 186.33h1.45v1.45h-1.45zM178.03 189.71h1.45v1.45h-1.45zM179.33 193.09h1.45v1.45h-1.45zM180.64 196.47h1.45v1.45h-1.45zM181.93 199.85h1.45v1.45h-1.45zM183.23 203.23h1.45v1.45h-1.45zM184.56 206.61h1.45v1.45h-1.45zM185.93 209.99h1.45v1.45h-1.45zM187.37 213.37h1.45v1.45h-1.45zM188.91 216.75h1.45v1.45h-1.45zM190.60 220.13h1.45v1.45h-1.45zM192.48 223.51h1.45v1.45h-1.45zM194.67 226.89h1.45v1.45h-1.45zM197.33 230.27h1.45v1.45h-1.45zM200.63 233.43h1.45v1.45h-1.45zM204.01 235.59h1.45v1.45h-1.45zM207.39 236.82h1.45v1.45h-1.45zM210.77 237.26h1.45v1.45h-1.45zM215.80 236.76h1.45v1.45h-1.45zM219.18 235.55h1.45v1.45h-1.45zM222.56 233.39h1.45v1.45h-1.45zM225.83 230.19h1.45v1.45h-1.45zM228.43 226.81h1.45v1.45h-1.45zM230.61 223.43h1.45v1.45h-1.45zM232.55 220.05h1.45v1.45h-1.45zM234.36 216.67h1.45v1.45h-1.45zM236.07 213.29h1.45v1.45h-1.45zM237.72 209.91h1.45v1.45h-1.45zM239.32 206.53h1.45v1.45h-1.45zM240.87 203.15h1.45v1.45h-1.45zM242.37 199.77h1.45v1.45h-1.45zM243.85 196.39h1.45v1.45h-1.45zM245.29 193.01h1.45v1.45h-1.45zM246.72 189.63h1.45v1.45h-1.45zM248.12 186.25h1.45v1.45h-1.45zM249.50 182.87h1.45v1.45h-1.45zM250.86 179.49h1.45v1.45h-1.45zM252.20 176.11h1.45v1.45h-1.45zM253.53 172.73h1.45v1.45h-1.45zM254.86 169.35h1.45v1.45h-1.45zM256.16 165.97h1.45v1.45h-1.45zM257.45 162.59h1.45v1.45h-1.45zM258.72 159.21h1.45v1.45h-1.45zM259.97 155.83h1.45v1.45h-1.45zM261.21 152.45h1.45v1.45h-1.45zM262.43 149.07h1.45v1.45h-1.45zM263.63 145.69h1.45v1.45h-1.45zM264.81 142.31h1.45v1.45h-1.45zM265.96 138.93h1.45v1.45h-1.45zM267.11 135.55h1.45v1.45h-1.45zM268.23 132.17h1.45v1.45h-1.45zM269.33 128.79h1.45v1.45h-1.45zM270.41 125.41h1.45v1.45h-1.45zM271.46 122.03h1.45v1.45h-1.45zM272.51 118.65h1.45v1.45h-1.45zM273.52 115.27h1.45v1.45h-1.45zM274.52 111.89h1.45v1.45h-1.45zM275.50 108.51h1.45v1.45h-1.45zM276.45 105.13h1.45v1.45h-1.45zM277.38 101.75h1.45v1.45h-1.45zM278.29 98.37h1.45v1.45h-1.45zM279.19 94.99h1.45v1.45h-1.45zM280.06 91.61h1.45v1.45h-1.45zM280.92 88.23h1.45v1.45h-1.45zM281.76 84.85h1.45v1.45h-1.45zM282.56 81.47h1.45v1.45h-1.45zM283.36 78.09h1.45v1.45h-1.45zM284.14 74.71h1.45v1.45h-1.45zM284.91 71.33h1.45v1.45h-1.45zM285.65 67.95h1.45v1.45h-1.45zM286.38 64.57h1.45v1.45h-1.45zM287.10 61.19h1.45v1.45h-1.45zM287.79 57.81h1.45v1.45h-1.45zM288.47 54.43h1.45v1.45h-1.45zM289.13 51.05h1.45v1.45h-1.45zM289.78 47.67h1.45v1.45h-1.45zM290.42 44.29h1.45v1.45h-1.45zM291.04 40.91h1.45v1.45h-1.45zM291.64 37.53h1.45v1.45h-1.45zM292.24 34.15h1.45v1.45h-1.45zM292.82 30.77h1.45v1.45h-1.45zM293.38 27.39h1.45v1.45h-1.45zM293.93 24.01h1.45v1.45h-1.45zM294.46 20.63h1.45v1.45h-1.45zM294.98 17.25h1.45v1.45h-1.45zM295.49 13.87h1.45v1.45h-1.45zM295.99 10.49h1.45v1.45h-1.45z" fill="#ffa500" stroke="none"/>
<path d="M120.18 10.28h1.45v1.45h-1.45zM120.99 13.65h1.45v1.45h-1.45zM121.81 17.03h1.45v1.45h-1.45zM122.63 20.41h1.45v1.45h-1.45zM123.46 23.79h1.45v1.45h-1.45zM124.30 27.17h1.45v1.45h-1.45zM125.13 30.55h1.45v1.45h-1.45zM125.98 33.93h1.45v1.45h-1.45zM126.84 37.31h1.45v1.45h-1.45zM127.71 40.69h1.45v1.45h-1.45zM128.57 44.07h1.45v1.45h-1.45zM129.45 47.45h1.45v1.45h-1.45zM130.34 50.84h1.45v1.45h-1.45zM131.24 54.22h1.45v1.45h-1.45zM132.15 57.60h1.45v1.45h-1.45zM133.06 60.98h1.45v1.45h-1.45zM133.99 64.36h1.45v1.45h-1.45zM134.94 67.74h1.45v1.45h-1.45zM135.89 71.12h1.45v1.45h-1.45zM136.86 74.50h1.45v1.45h-1.45zM137.84 77.88h1.45v1.45h-1.45zM138.84 81.26h1.45v1.45h-1.45zM139.85 84.64h1.45v1.45h-1.45zM140.89 88.02h1.45v1.45h-1.45zM141.93 91.39h1.45v1.45h-1.45zM143.00 94.77h1.45v1.45h-1.45zM144.09 98.15h1.45v1.45h-1.45zM145.19 101.53h1.45v1.45h-1.45zM146.32 104.91h1.45v1.45h-1.45zM147.48 108.29h1.45v1.45h-1.45zM148.66 111.67h1.45v1.45h-1.45zM149.86 115.05h1.45v1.45h-1.45zM151.08 118.43h1.45v1.45h-1.45zM152.33 121.81h1.45v1.45h-1.45zM153.59 125.19h1.45v1.45h-1.45zM154.88 128.57h1.45v1.45h-1.45zM156.19 131.95h1.45v1.45h-1.45zM157.50 135.33h1.45v1.45h-1.45zM158.84 138.71h1.45v1.45h-1.45zM160.18 142.09h1.45v1.45h-1.45zM161.54 145.47h1.45v1.45h-1.45zM162.91 148.85h1.45v1.45h-1.45zM164.28 152.23h1.45v1.45h-1.45zM165.65 155.61h1.45v1.45h-1.45zM167.02 158.99h1.45v1.45h-1.45zM168.39 162.37h1.45v1.45h-1.45zM169.74 165.75h1.45v1.45h-1.45zM171.09 169.13h1.45v1.45h-1.45zM172.41 172.51h1.45v1.45h-1.45zM173.70 175.89h1.45v1.45h-1.45zM174.97 179.27h1.45v1.45h-1.45zM176.81 184.35h1.45v1.45h-1.45zM178.00 187.73h1.45v1.45h-1.45zM179.17 191.11h1.45v1.45h-1.45zM180.34 194.49h1.45v1.45h-1.45zM181.51 197.87h1.45v1.45h-1.45zM182.70 201.25h1.45v1.45h-1.45zM183.91 204.63h1.45v1.45h-1.45zM185.20 208.01h1.45v1.45h-1.45zM186.56 211.39h1.45v1.45h-1.45zM188.01 214.77h1.45v1.45h-1.45zM189.60 218.15h1.45v1.45h-1.45zM191.34 221.53h1.45v1.45h-1.45zM193.33 224.91h1.45v1.45h-1.45zM195.66 228.29h1.45v1.45h-1.45zM198.60 231.67h1.45v1.45h-1.45zM201.98 234.45h1.45v1.45h-1.45zM205.36 236.20h1.45v1.45h-1.45zM208.74 237.09h1.45v1.45h-1.45zM212.12 237.26h1.45v1.45h-1.45zM217.50 236.18h1.45v1.45h-1.45zM220.88 234.47h1.45v1.45h-1.45zM224.26 231.76h1.45v1.45h-1.45zM227.28 228.40h1.45v1.45h-1.45zM229.69 225.02h1.45v1.45h-1.45zM231.76 221.64h1.45v1.45h-1.45zM233.60 218.26h1.45v1.45h-1.45zM235.29 214.88h1.45v1.45h-1.45zM236.86 211.50h1.45v1.45h-1.45zM238.35 208.12h1.45v1.45h-1.45zM239.79 204.74h1.45v1.45h-1.45zM241.17 201.36h1.45v1.45h-1.45zM242.52 197.98h1.45v1.45h-1.45zM243.85 194.60h1.45v1.45h-1.45zM245.16 191.22h1.45v1.45h-1.45zM246.44 187.84h1.45v1.45h-1.45zM247.73 184.46h1.45v1.45h-1.45zM249.00 181.08h1.45v1.45h-1.45zM250.26 177.70h1.45v1.45h-1.45zM251.53 174.32h1.45v1.45h-1.45zM252.80 170.94h1.45v1.45h-1.45zM254.06 167.56h1.45v1.45h-1.45zM255.32 164.18h1.45v1.45h-1.45zM256.57 160.80h1.45v1.45h-1.45zM257.81 157.42h1.45v1.45h-1.45zM259.03 154.04h1.45v1.45h-1.45zM260.23 150.66h1.45v1.45h-1.45zM261.43 147.28h1.45v1.45h-1.45zM262.60 143.90h1.45v1.45h-1.45zM263.76 140.52h1.45v1.45h-1.45zM264.90 137.14h1.45v1.45h-1.45zM266.02 133.76h1.45v1.45h-1.45zM267.12 130.38h1.45v1.45h-1.45zM268.20 127.00h1.45v1.45h-1.45zM269.25 123.62h1.45v1.45h-1.45zM270.29 120.24h1.45v1.45h-1.45zM271.31 116.86h1.45v1.45h-1.45zM272.30 113.48h1.45v1.45h-1.45zM273.26 110.10h1.45v1.45h-1.45zM274.21 106.72h1.45v1.45h-1.45zM275.12 103.34h1.45v1.45h-1.45zM276.02 99.96h1.45v1.45h-1.45zM276.89 96.58h1.45v1.45h-1.45zM277.74 93.20h1.45v1.45h-1.45zM278.58 89.82h1.45v1.45h-1.45zM279.39 86.44h1.45v1.45h-1.45zM280.18 83.06h1.45v1.45h-1.45zM280.96 79.68h1.45v1.45h-1.45zM281.71 76.30h1.45v1.45h-1.45zM282.45 72.92h1.45v1.45h-1.45zM283.17 69.54h1.45v1.45h-1.45zM283.88 66.16h1.45v1.45h-1.45zM284.57 62.78h1.45v1.45h-1.45zM285.25 59.40h1.45v1.45h-1.45zM285.92 56.02h1.45v1.45h-1.45zM286.57 52.64h1.45v1.45h-1.45zM287.21 49.26h1.45v1.45h-1.45zM287.84 45.88h1.45v1.45h-1.45zM288.46 42.50h1.45v1.45h-1.45zM289.06 39.12h1.45v1.45h-1.45zM289.65 35.74h1.45v1.45h-1.45zM290.24 32.36h1.45v1.45h-1.45zM290.80 28.98h1.45v1.45h-1.45zM291.37 25.60h1.45v1.45h-1.45zM291.92 22.22h1.45v1.45h-1.45zM292.46 18.84h1.45v1.45h-1.45zM293.00 15.46h1.45v1.45h-1.45zM293.53 12.08h1.45v1.45h-1.45z" fill="#ff0000" stroke="none"/>
</g>
<rect x="98.5" y="10.5" width="227.0" height="227.5" fill="none" stroke="#000" stroke-width="1.2"/>
<text transform="translate(92.3,241.45) scale(1,1.04)" font-size="9.6" text-anchor="end">0</text>
<text transform="translate(92.3,216.17) scale(1,1.04)" font-size="9.6" text-anchor="end">5</text>
<text transform="translate(92.3,190.89) scale(1,1.04)" font-size="9.6" text-anchor="end">10</text>
<text transform="translate(92.3,165.62) scale(1,1.04)" font-size="9.6" text-anchor="end">15</text>
<text transform="translate(92.3,140.34) scale(1,1.04)" font-size="9.6" text-anchor="end">20</text>
<text transform="translate(92.3,115.06) scale(1,1.04)" font-size="9.6" text-anchor="end">25</text>
<text transform="translate(92.3,89.78) scale(1,1.04)" font-size="9.6" text-anchor="end">30</text>
<text transform="translate(92.3,64.51) scale(1,1.04)" font-size="9.6" text-anchor="end">35</text>
<text transform="translate(92.3,39.23) scale(1,1.04)" font-size="9.6" text-anchor="end">40</text>
<text transform="translate(92.3,13.95) scale(1,1.04)" font-size="9.6" text-anchor="end">45</text>
<text transform="translate(112.11,251.2) scale(1,1.04)" font-size="9.6" text-anchor="middle">37</text>
<text transform="translate(137.33,251.2) scale(1,1.04)" font-size="9.6" text-anchor="middle">39</text>
<text transform="translate(162.56,251.2) scale(1,1.04)" font-size="9.6" text-anchor="middle">41</text>
<text transform="translate(187.78,251.2) scale(1,1.04)" font-size="9.6" text-anchor="middle">43</text>
<text transform="translate(213.00,251.2) scale(1,1.04)" font-size="9.6" text-anchor="middle">45</text>
<text transform="translate(238.22,251.2) scale(1,1.04)" font-size="9.6" text-anchor="middle">47</text>
<text transform="translate(263.44,251.2) scale(1,1.04)" font-size="9.6" text-anchor="middle">49</text>
<text transform="translate(288.67,251.2) scale(1,1.04)" font-size="9.6" text-anchor="middle">51</text>
<text transform="translate(313.89,251.2) scale(1,1.04)" font-size="9.6" text-anchor="middle">53</text>
<text transform="translate(195.3,265) scale(1,1.04)" font-size="9.6">true θ<tspan font-size="7.6" dy="2.6">23</tspan></text>
<text transform="translate(68.5,129.9) rotate(-90) scale(1,1.04)" font-size="10.5">χ<tspan font-size="8.2" dy="-4.7">2</tspan></text>
<text transform="translate(235.3,28.70) scale(1,1.04)" font-size="9.6" text-anchor="end">NOvA+T2K+ICAL</text>
<path d="M241 25.50H268.8" stroke="#000" stroke-width="0.9" stroke-dasharray="1 0.9" fill="none"/>
<text transform="translate(235.3,38.50) scale(1,1.04)" font-size="9.6" text-anchor="end">+LBNO, exp = 100.0</text>
<path d="M241.6 35.30H267.6" stroke="#ee82ee" stroke-width="1.1" stroke-dasharray="1.4 2.1" fill="none"/>
<text transform="translate(235.3,48.30) scale(1,1.04)" font-size="9.6" text-anchor="end">+LBNO, exp = 200.0</text>
<path d="M241.6 45.10H267.6" stroke="#0000ff" stroke-width="1.5" stroke-dasharray="1.4 2.1" fill="none"/>
<text transform="translate(235.3,58.10) scale(1,1.04)" font-size="9.6" text-anchor="end">+LBNO, exp = 300.0</text>
<path d="M241.6 54.90H267.6" stroke="#228b22" stroke-width="1.5" stroke-dasharray="1.4 2.1" fill="none"/>
<text transform="translate(235.3,67.90) scale(1,1.04)" font-size="9.6" text-anchor="end">+LBNO, exp = 400.0</text>
<path d="M241.6 64.70H267.6" stroke="#ffd700" stroke-width="1.5" stroke-dasharray="1.4 2.1" fill="none"/>
<text transform="translate(235.3,77.70) scale(1,1.04)" font-size="9.6" text-anchor="end">+LBNO, exp = 500.0</text>
<path d="M241.6 74.50H267.6" stroke="#ffa500" stroke-width="1.5" stroke-dasharray="1.4 2.1" fill="none"/>
<text transform="translate(235.3,87.50) scale(1,1.04)" font-size="9.6" text-anchor="end">+LBNO, exp = 600.0</text>
<path d="M241.6 84.30H267.6" stroke="#ff0000" stroke-width="1.5" stroke-dasharray="1.4 2.1" fill="none"/>
<text transform="translate(167.6,97.7) scale(1,1.04)" font-size="9.6">(in 10<tspan font-size="7.6" dy="-4.6">21</tspan></text>
<text transform="translate(203.2,97.7) scale(1,1.04)" font-size="9.6">pot-kt)</text>
</svg>
</body></html>
